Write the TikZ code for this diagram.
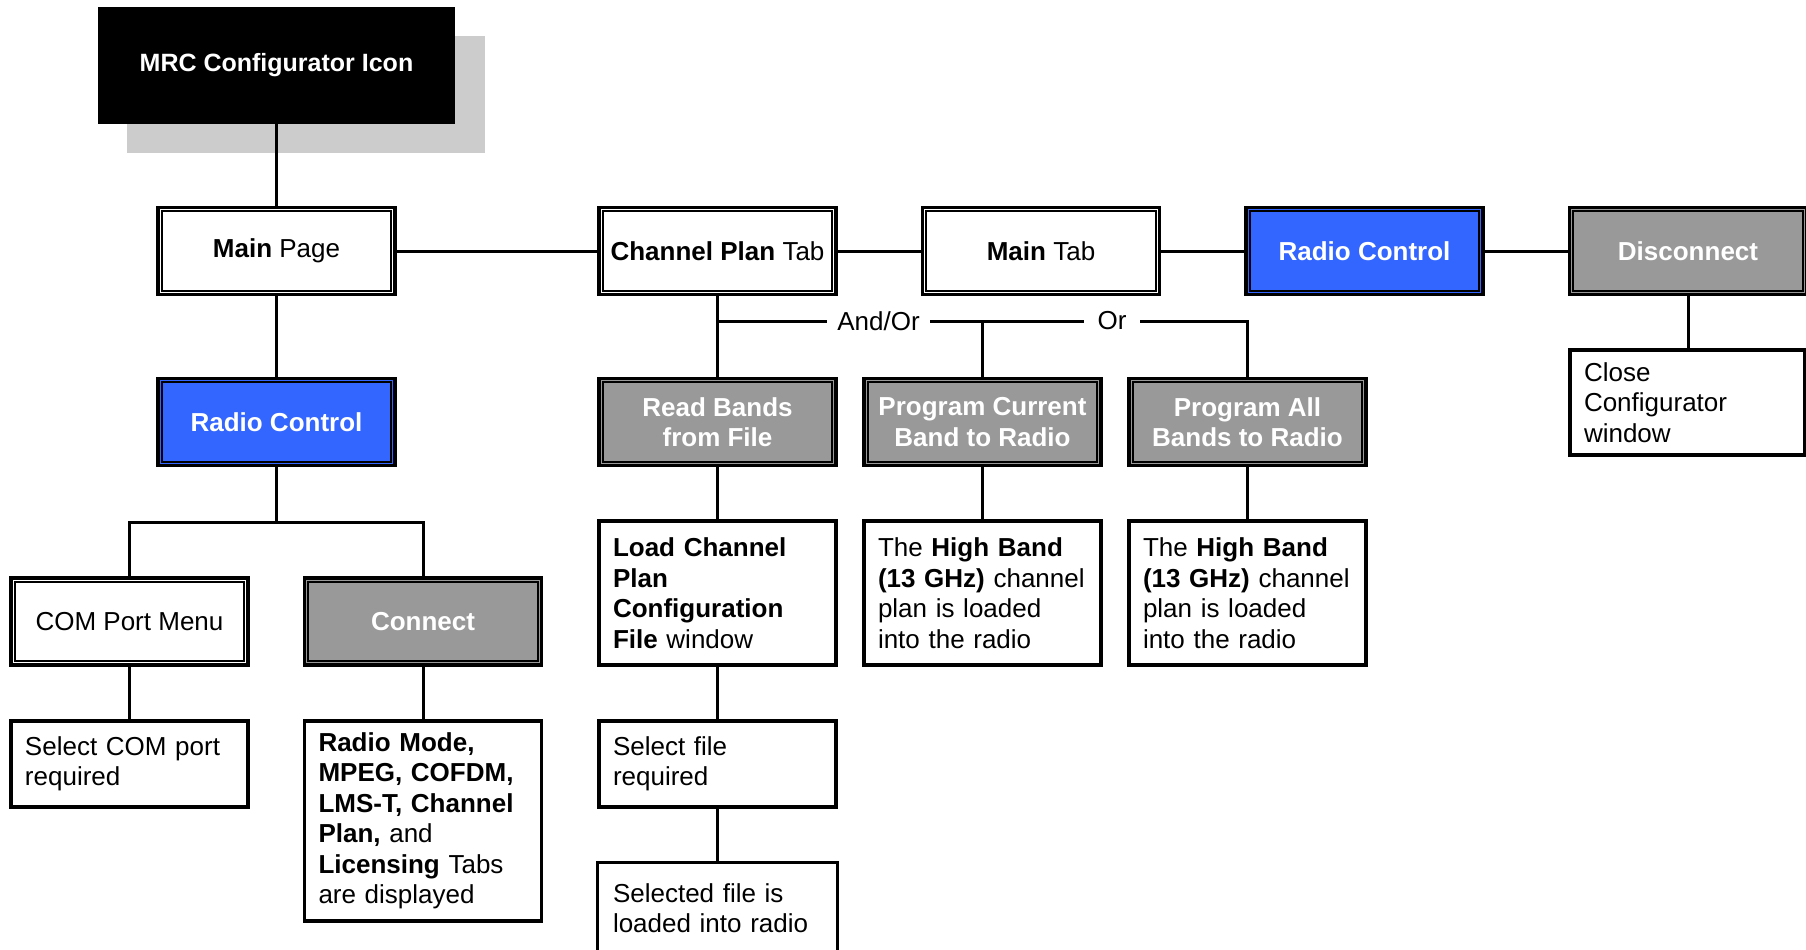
\documentclass[tikz,border=0pt]{standalone}
\usepackage{fontspec}
\setmainfont{Liberation Sans}
\definecolor{rcblue}{HTML}{3366FF}
\definecolor{btngray}{HTML}{999999}
\definecolor{shadowgray}{HTML}{CCCCCC}
\begin{document}
\begin{tikzpicture}[
  x=0.5pt, y=-0.5pt,
  base/.style={font=\fontsize{13pt}{15.25pt}\selectfont, inner sep=0pt},
  framed/.style={base, draw, line width=1.7pt, minimum width=118.5pt,
    minimum height=43.5pt, align=center,
    path picture={\draw[line width=1pt]
      ([shift={(1.95pt,-1.95pt)}]path picture bounding box.north west) rectangle
      ([shift={(-1.95pt,1.95pt)}]path picture bounding box.south east);}},
  pagebox/.style={framed, fill=white, text=black},
  ctrlbox/.style={framed, fill=rcblue, text=white, font=\fontsize{13pt}{15.25pt}\selectfont\bfseries},
  btnbox/.style={framed, fill=btngray, text=white, font=\fontsize{13pt}{15.25pt}\selectfont\bfseries},
  note/.style={base, draw, line width=1.6pt, fill=white, inner xsep=7pt,
    text width=104.5pt, align=left},
  iconbox/.style={base, fill=black, text=white, minimum width=178.5pt,
    minimum height=58.5pt, font=\fontsize{12.5pt}{15pt}\selectfont\bfseries},
  wire/.style={line width=1.5pt},
  tag/.style={base, fill=white, inner xsep=5pt, inner ysep=3pt}
]
\useasboundingbox (0,0) rectangle (1806,949);
\clip (0,0) rectangle (1806,949);

% launcher icon with its drop shadow
\fill[shadowgray] (127,36) rectangle (485,153);
\node[iconbox] (mrc) at (276.5,65.5) {MRC Configurator Icon};

% top row of pages and tabs
\node[pagebox] (main) at (276.5,251) {\textbf{Main} Page};
\node[pagebox] (cpt) at (717.5,251) {\textbf{Channel Plan} Tab};
\node[pagebox] (maintab) at (1041,251) {\textbf{Main} Tab};
\node[ctrlbox] (rctop) at (1364.5,251) {Radio Control};
\node[btnbox] (disc) at (1688,251) {Disconnect};

% second row
\node[ctrlbox] (rcleft) at (276.5,422) {Radio Control};
\node[btnbox] (readb) at (717.5,422) {Read Bands\\from File};
\node[btnbox] (progcur) at (982.5,422) {Program Current\\Band to Radio};
\node[btnbox] (progall) at (1247.5,422) {Program All\\Bands to Radio};
\node[note, text width=103.5pt, minimum height=52.5pt] (close) at (1687.5,402.5)
  {Close\\Configurator\\window};

% left branch under Radio Control
\node[pagebox] (com) at (129.5,621.5) {COM Port Menu};
\node[btnbox] (conn) at (423,621.5) {Connect};
\node[note, minimum height=43pt] (selcom) at (129.5,764)
  {Select COM port\\required};
\node[note, minimum height=100pt] (tabs) at (423,821)
  {\textbf{Radio Mode,}\\\textbf{MPEG, COFDM,}\\\textbf{LMS-T, Channel}\\\textbf{Plan,} and\\\textbf{Licensing} Tabs\\are displayed};

% channel plan results
\node[note, minimum height=72pt] (loadwin) at (717.5,593)
  {\textbf{Load Channel}\\\textbf{Plan}\\\textbf{Configuration}\\\textbf{File} window};
\node[note, minimum height=43pt] (selfile) at (717.5,764)
  {Select file\\required};
\node[note, draw=none, minimum height=44pt] (loaded) at (717.5,908)
  {Selected file is\\loaded into radio};
\draw[line width=1.6pt] (loaded.south west) -- (loaded.north west)
  -- (loaded.north east) -- (loaded.south east);
\node[note, minimum height=72pt] (hb1) at (982.5,593)
  {The \textbf{High Band}\\\textbf{(13 GHz)} channel\\plan is loaded\\into the radio};
\node[note, minimum height=72pt] (hb2) at (1247.5,593)
  {The \textbf{High Band}\\\textbf{(13 GHz)} channel\\plan is loaded\\into the radio};

% connectors
\coordinate (leftfork) at (276.5,522);
\coordinate (bandfork) at (717.5,321);
\draw[wire] (mrc.south) -- (main.north);
\draw[wire] (main.east) -- (cpt.west);
\draw[wire] (cpt.east) -- (maintab.west);
\draw[wire] (maintab.east) -- (rctop.west);
\draw[wire] (rctop.east) -- (disc.west);
\draw[wire] (disc.south) -- (disc.south |- close.north);
\draw[wire] (main.south) -- (rcleft.north);
\draw[wire] (rcleft.south) -- (leftfork);
\draw[wire] (com.north) |- (leftfork) -| (conn.north);
\draw[wire] (com.south) -- (selcom.north);
\draw[wire] (conn.south) -- (tabs.north);
\draw[wire] (cpt.south) -- (readb.north);
\draw[wire] (bandfork) -| (progall.north);
\draw[wire] (progcur.north |- bandfork) -- (progcur.north);
\draw[wire] (readb.south) -- (loadwin.north);
\draw[wire] (loadwin.south) -- (selfile.north);
\draw[wire] (selfile.south) -- (loaded.north);
\draw[wire] (progcur.south) -- (hb1.north);
\draw[wire] (progall.south) -- (hb2.north);

% choice labels sitting on the fork line
\node[tag] (andor) at (878.5,321) {And/Or};
\node[tag, inner xsep=7pt] (orlabel) at (1112,321) {Or};
\end{tikzpicture}
\end{document}
